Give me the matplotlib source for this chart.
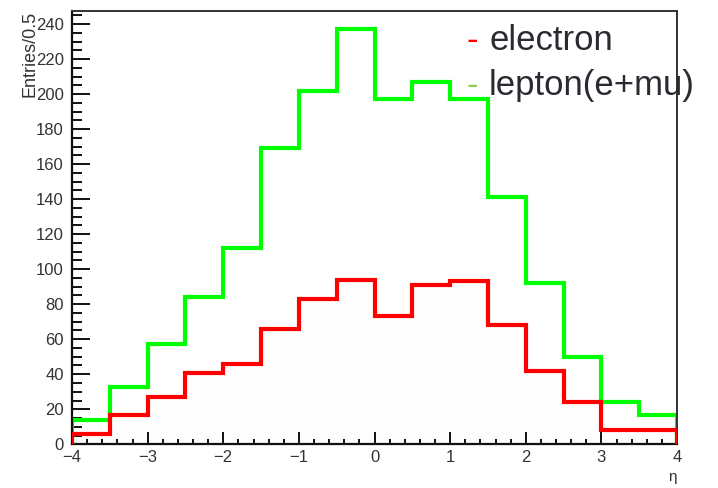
"""ROOT-style eta distributions for electrons and leptons."""

import matplotlib

matplotlib.use("Agg")
import matplotlib.pyplot as plt
import numpy as np
from matplotlib.ticker import MultipleLocator

bin_edges = np.arange(-4.0, 4.01, 0.5)
electron_counts = [6, 17, 27, 41, 46, 66, 83, 94, 73, 91, 93, 68, 42, 24, 8, 8]
lepton_counts = [14, 33, 57, 84, 112, 169, 202, 237, 197, 207, 197, 141, 92, 50, 24, 17]

plt.rcParams["font.family"] = ["Liberation Sans", "DejaVu Sans"]

fig = plt.figure(figsize=(7.18, 4.88), dpi=100)
ax = fig.add_axes([72 / 718, 1 - 444.3 / 488, 605 / 718, 433.6 / 488])

ax.stairs(electron_counts, bin_edges, fill=True, color="#fdfdfd", zorder=1)
ax.stairs(lepton_counts, bin_edges, color="#00ff00", linewidth=3, zorder=2)
ax.stairs(electron_counts, bin_edges, color="#ff0000", linewidth=3, zorder=3)

ax.set_xlim(-4, 4)
ax.set_ylim(0, 247.6)
ax.xaxis.set_major_locator(MultipleLocator(1))
ax.xaxis.set_minor_locator(MultipleLocator(0.2))
ax.yaxis.set_major_locator(MultipleLocator(20))
ax.yaxis.set_minor_locator(MultipleLocator(5))

ax.tick_params(axis="both", which="both", direction="in", width=1.4,
               colors="#111111", labelcolor="#333333", labelsize=12)
ax.tick_params(axis="y", which="major", length=13, pad=6)
ax.tick_params(axis="y", which="minor", length=7)
ax.tick_params(axis="x", which="major", length=8.5, pad=4)
ax.tick_params(axis="x", which="minor", length=3.6)

for side in ["left", "bottom"]:
    ax.spines[side].set_linewidth(1.6)
    ax.spines[side].set_color("#111111")
for side in ["top", "right"]:
    ax.spines[side].set_linewidth(1.4)
    ax.spines[side].set_color("#333333")

fig.text(30 / 718, 1 - 11 / 488, "Entries/0.5", rotation=90, ha="center",
         va="top", fontsize=13, color="#333333")
fig.text(677 / 718, 1 - 477 / 488, "η", ha="right", va="center",
         fontsize=11, color="#333333")

# hand-made legend, as in the original
legend_rows = [("electron", "#ff0000", 50), ("lepton(e+mu)", "#92d050", 95)]
for label, dash_color, baseline in legend_rows:
    y = 1 - baseline / 488
    fig.text(467 / 718, y, "-", color=dash_color, fontsize=25, va="baseline")
    fig.text(489 / 718, y, label, color="#2a2a33", fontsize=25, va="baseline")

fig.savefig("out.png", dpi=100)
